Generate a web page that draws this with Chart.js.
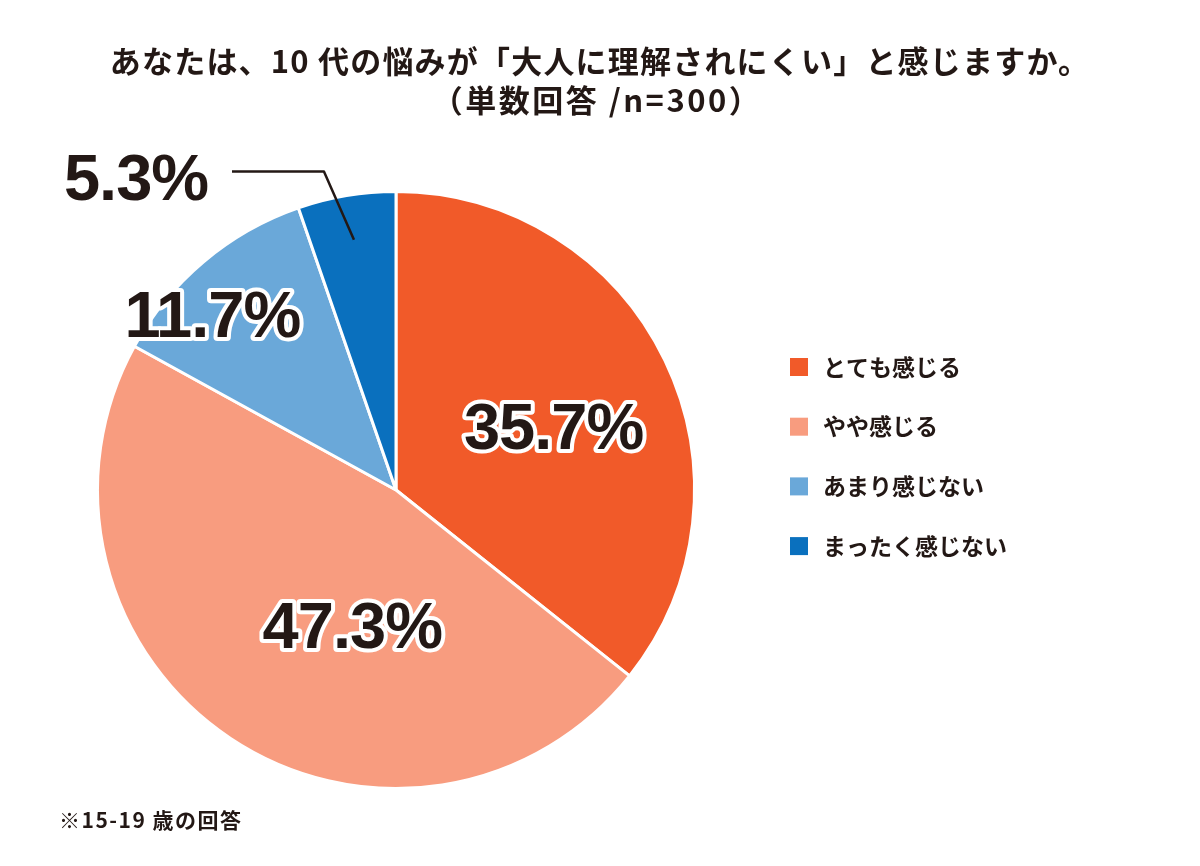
<!DOCTYPE html>
<html lang="ja">
<head>
<meta charset="utf-8">
<title>10代の悩み</title>
<script src="https://cdn.jsdelivr.net/npm/chart.js@4.4.1/dist/chart.umd.min.js"></script>
<style>
    html, body { margin: 0; padding: 0; background: #fff; }
    #wrap { width: 1200px; height: 866px; position: relative; }
</style>
</head>
<body>
<div id="wrap"><canvas id="pieChart"></canvas></div>
<script>
// data
const categories = ['とても感じる', 'やや感じる', 'あまり感じない', 'まったく感じない'];
const shares = [35.7, 47.3, 11.7, 5.3];
const sliceColors = ['#F15A29', '#F89C7F', '#6AA8D9', '#0A70BE'];

const titleLines = ['あなたは、10 代の悩みが「大人に理解されにくい」と感じますか。', '（単数回答 /n=300）'];
const footnote = '※15-19 歳の回答';

// label placement: fraction of radius + pixel nudge
const labelPlace = [
    { f: 0.56, dx: 7, dy: 14 },
    { f: 0.50, dx: 39, dy: 16 },
    { f: 0.84, dx: -22, dy: 21 },
    { f: 0.85, outside: true }
];

const JP = '"Noto Sans CJK JP", "Noto Sans", sans-serif';
const NUM = '"Liberation Sans", Arial, sans-serif';

function drawPct(ctx, text, x, y, outline) {
    ctx.font = 'bold 65px ' + NUM;
    ctx.letterSpacing = '-1px';
    ctx.textAlign = 'center';
    ctx.textBaseline = 'middle';
    if (outline) {
        ctx.lineJoin = 'round';
        ctx.lineWidth = 8;
        ctx.strokeStyle = '#ffffff';
        ctx.strokeText(text, x, y);
    }
    ctx.fillStyle = '#231815';
    ctx.fillText(text, x, y);
    ctx.letterSpacing = '0px';
}

const decorPlugin = {
    id: 'decor',
    afterDraw(chart) {
        const ctx = chart.ctx;
        const meta = chart.getDatasetMeta(0);
        ctx.save();

        // title
        ctx.fillStyle = '#231815';
        ctx.textAlign = 'center';
        ctx.textBaseline = 'middle';
        ctx.font = 'bold 31px ' + JP;
        ctx.letterSpacing = '1.2px';
        ctx.fillText(titleLines[0], 600, 61);
        ctx.letterSpacing = '2.5px';
        ctx.fillText(titleLines[1], 597, 100);
        ctx.letterSpacing = '0px';

        // percentage labels
        meta.data.forEach((arc, i) => {
            const p = arc.getProps(['x', 'y', 'startAngle', 'endAngle', 'outerRadius'], true);
            const mid = (p.startAngle + p.endAngle) / 2;
            const lp = labelPlace[i];
            const r = p.outerRadius * lp.f;
            const ax = p.x + Math.cos(mid) * r;
            const ay = p.y + Math.sin(mid) * r;
            const text = shares[i].toFixed(1) + '%';
            if (lp.outside) {
                // leader line from slice to label on the upper left
                ctx.strokeStyle = '#231815';
                ctx.lineWidth = 2.5;
                ctx.beginPath();
                ctx.moveTo(ax, ay);
                ctx.lineTo(ax - 30, p.y - p.outerRadius - 20);
                ctx.lineTo(232, p.y - p.outerRadius - 20);
                ctx.stroke();
                drawPct(ctx, text, 136, p.y - p.outerRadius - 9, false);
            } else {
                drawPct(ctx, text, ax + lp.dx, ay + lp.dy, true);
            }
        });

        // legend
        ctx.textAlign = 'left';
        ctx.textBaseline = 'middle';
        ctx.font = 'bold 23px ' + JP;
        categories.forEach((c, i) => {
            const y = 367 + i * 59.7;
            ctx.fillStyle = sliceColors[i];
            ctx.fillRect(790, y - 9, 18, 18);
            ctx.fillStyle = '#231815';
            ctx.fillText(c, 823, y);
        });

        // footnote
        ctx.font = 'bold 21px ' + JP;
        ctx.letterSpacing = '1.5px';
        ctx.fillText(footnote, 59, 820);
        ctx.letterSpacing = '0px';
        ctx.restore();
    }
};

new Chart(document.getElementById('pieChart'), {
    type: 'pie',
    data: {
        labels: categories,
        datasets: [{
            data: shares,
            backgroundColor: sliceColors,
            borderColor: '#ffffff',
            borderWidth: 3
        }]
    },
    options: {
        responsive: true,
        maintainAspectRatio: false,
        animation: false,
        layout: { padding: { left: 96, right: 504, top: 190, bottom: 76 } },
        plugins: {
            legend: { display: false },
            tooltip: { enabled: false },
            title: { display: false }
        }
    },
    plugins: [decorPlugin]
});
</script>
</body>
</html>
